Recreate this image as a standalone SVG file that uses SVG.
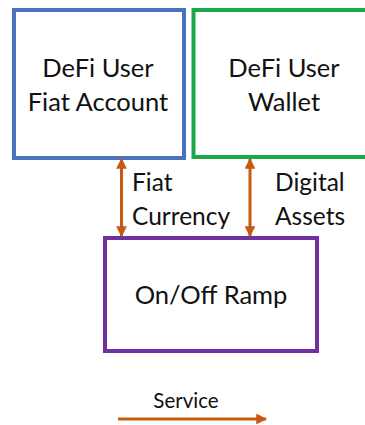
<svg xmlns="http://www.w3.org/2000/svg" width="365" height="425" viewBox="0 0 365 425">
  <style>
    .box { fill: #ffffff; stroke-width: 4; }
    .label { font-family: Lato, "Liberation Sans", sans-serif; fill: #111111; }
    .big { font-size: 25.5px; text-anchor: middle; }
    .side { font-size: 24.5px; }
    .small { font-size: 20.5px; text-anchor: middle; }
    .flow { stroke: #C55A11; stroke-width: 3; fill: none; }
  </style>
  <defs>
    <marker id="head" viewBox="0 0 10 10" refX="9" refY="5" markerWidth="3.6" markerHeight="3.6" orient="auto-start-reverse" markerUnits="strokeWidth">
      <path d="M0,0 L10,5 L0,10 Z" fill="#C55A11"/>
    </marker>
  </defs>
  <rect width="365" height="425" fill="#ffffff"/>

  <g id="fiat-account">
    <rect class="box" x="14" y="10" width="170" height="148" stroke="#4A72C0"/>
    <text class="label big" x="98" y="77">DeFi User</text>
    <text class="label big" x="98" y="111">Fiat Account</text>
  </g>

  <g id="user-wallet">
    <rect class="box" x="193.5" y="10" width="175" height="147" stroke="#19A84A"/>
    <text class="label big" x="284" y="77">DeFi User</text>
    <text class="label big" x="284" y="111">Wallet</text>
  </g>

  <g id="on-off-ramp">
    <rect class="box" x="105" y="238" width="212" height="113" stroke="#7030A0"/>
    <text class="label big" x="211" y="304">On/Off Ramp</text>
  </g>

  <g id="connectors">
    <line class="flow" x1="121.5" y1="159" x2="121.5" y2="236" marker-start="url(#head)" marker-end="url(#head)"/>
    <line class="flow" x1="250" y1="159" x2="250" y2="236" marker-start="url(#head)" marker-end="url(#head)"/>
    <text class="label side" x="132" y="191">Fiat</text>
    <text class="label side" x="132" y="225">Currency</text>
    <text class="label side" x="275" y="191">Digital</text>
    <text class="label side" x="275" y="225">Assets</text>
  </g>

  <g id="legend">
    <text class="label small" x="186" y="408">Service</text>
    <line class="flow" x1="118" y1="419" x2="266" y2="419" marker-end="url(#head)"/>
  </g>
</svg>
